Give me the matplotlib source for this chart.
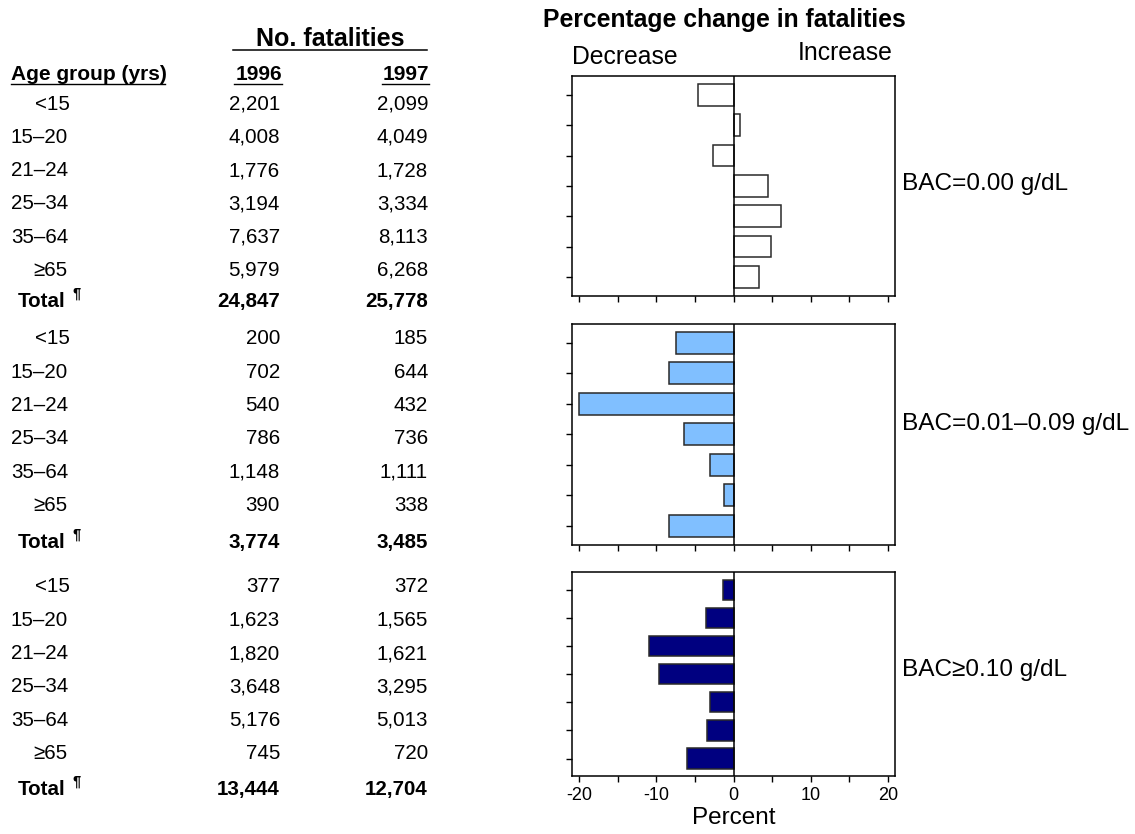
"""
Alcohol-related traffic fatalities by age group and BAC level, 1996 vs 1997.
Left: table of counts. Right: percentage change bars per BAC level.
"""
import matplotlib
matplotlib.use("Agg")
import matplotlib.pyplot as plt
from matplotlib.lines import Line2D
import numpy as np

plt.rcParams["font.family"] = ["Liberation Sans", "DejaVu Sans"]

W, H = 1135, 834

# Data
age_groups = ["<15", "15\u201320", "21\u201324", "25\u201334", "35\u201364", "\u226565", "Total"]
bac_labels = ["BAC=0.00 g/dL", "BAC=0.01\u20130.09 g/dL", "BAC\u22650.10 g/dL"]

fat_1996_bac0 = [2201, 4008, 1776, 3194, 7637, 5979, 24847]
fat_1997_bac0 = [2099, 4049, 1728, 3334, 8113, 6268, 25778]
fat_1996_bac1 = [200, 702, 540, 786, 1148, 390, 3774]
fat_1997_bac1 = [185, 644, 432, 736, 1111, 338, 3485]
fat_1996_bac2 = [377, 1623, 1820, 3648, 5176, 745, 13444]
fat_1997_bac2 = [372, 1565, 1621, 3295, 5013, 720, 12704]

# percentage change
pct_bac0 = [-4.6, 0.9, -2.6, 4.4, 6.2, 4.8, 3.3]
pct_bac1 = [-7.5, -8.3, -20.0, -6.4, -3.1, -1.2, -8.4]
pct_bac2 = [-1.3, -3.6, -11.0, -9.6, -3.1, -3.4, -6.0]

x_ticks_major = [-20, -10, 0, 10, 20]
x_ticks_minor = [-15, -5, 5, 15]

BAR_COLORS = ["#FFFFFF", "#80BFFF", "#000080"]
EDGE = "#2a2a2a"


def fx(x):
    return x / W


def fy(y):
    return 1 - y / H


fig = plt.figure(figsize=(W / 100, H / 100), dpi=100)
fig.set_facecolor("white")

# ---- table on the left ----
TXT = 14.8
HDR = 15
fig.text(fx(330), fy(39), "No. fatalities", ha="center", va="center",
         fontsize=18, fontweight="bold")
fig.add_artist(Line2D([fx(233), fx(427)], [fy(50), fy(50)], color="black", lw=1.1))

headers = [("Age group (yrs)", 11, "left"), ("1996", 282, "right"), ("1997", 429, "right")]
for txt, x, ha in headers:
    fig.text(fx(x), fy(74), txt, ha=ha, va="center", fontsize=HDR, fontweight="bold")
fig.add_artist(Line2D([fx(11), fx(165)], [fy(84), fy(84)], color="black", lw=1.0))
fig.add_artist(Line2D([fx(234), fx(282)], [fy(84), fy(84)], color="black", lw=1.0))
fig.add_artist(Line2D([fx(382), fx(429)], [fy(84), fy(84)], color="black", lw=1.0))

label_x = {"<15": 35, "\u226565": 33, "Total": 18}
blocks = [
    (fat_1996_bac0, fat_1997_bac0, 104, 31),
    (fat_1996_bac1, fat_1997_bac1, 339, 37),
    (fat_1996_bac2, fat_1997_bac2, 587, 36),
]
row_step = 33.3
for col96, col97, y0, tot_gap in blocks:
    for i, grp in enumerate(age_groups):
        y = y0 + i * row_step
        is_total = grp == "Total"
        if is_total:
            y = y0 + 5 * row_step + tot_gap
        w = "bold" if is_total else "normal"
        fig.text(fx(label_x.get(grp, 11)), fy(y), grp, ha="left", va="center",
                 fontsize=TXT, fontweight=w)
        if is_total:
            fig.text(fx(72), fy(y - 8), "\u00b6", ha="left", va="center", fontsize=10.5,
                     fontweight="bold")
        fig.text(fx(280), fy(y), f"{col96[i]:,}", ha="right", va="center",
                 fontsize=TXT, fontweight=w)
        fig.text(fx(428), fy(y), f"{col97[i]:,}", ha="right", va="center",
                 fontsize=TXT, fontweight=w)

# ---- bar panels on the right ----
fig.text(fx(543), fy(20), "Percentage change in fatalities", ha="left", va="center",
         fontsize=17.8, fontweight="bold")
fig.text(fx(572), fy(57), "Decrease", ha="left", va="center", fontsize=17.8)
fig.text(fx(893), fy(53), "Increase", ha="right", va="center", fontsize=17.8)

panel_px = [(75.7, 295.7), (323.7, 544.7), (572, 776)]
label_shift = [2, 10, 4]
series = [pct_bac0, pct_bac1, pct_bac2]

for k, ((top, bot), vals) in enumerate(zip(panel_px, series)):
    ax = fig.add_axes([fx(572), fy(bot), fx(895) - fx(572), (bot - top) / H])
    ypos = np.arange(len(age_groups))
    ax.barh(ypos, vals, height=0.72, color=BAR_COLORS[k], edgecolor=EDGE,
            linewidth=1.1, zorder=3)
    ax.axvline(0, color="black", lw=1.1, zorder=4)
    ax.set_xlim(-20.9, 20.9)
    ax.set_ylim(len(age_groups) - 0.38, -0.63)
    ax.set_yticks(ypos)
    ax.set_yticklabels([])
    ax.set_xticks(x_ticks_major)
    ax.set_xticks(x_ticks_minor, minor=True)
    ax.tick_params(axis="both", which="both", direction="out", length=4.5,
                   width=1.0, color="black")
    if k < 2:
        ax.set_xticklabels([])
    else:
        ax.set_xticklabels([str(t) for t in x_ticks_major], fontsize=13)
        ax.set_xlabel("Percent", fontsize=17.5, labelpad=2)
    for sp in ax.spines.values():
        sp.set_color("black")
        sp.set_linewidth(1.1)
    fig.text(fx(902), fy((top + bot) / 2 - label_shift[k]), bac_labels[k], ha="left",
             va="center", fontsize=17.6)

fig.savefig("out.png", dpi=100, facecolor="white")
